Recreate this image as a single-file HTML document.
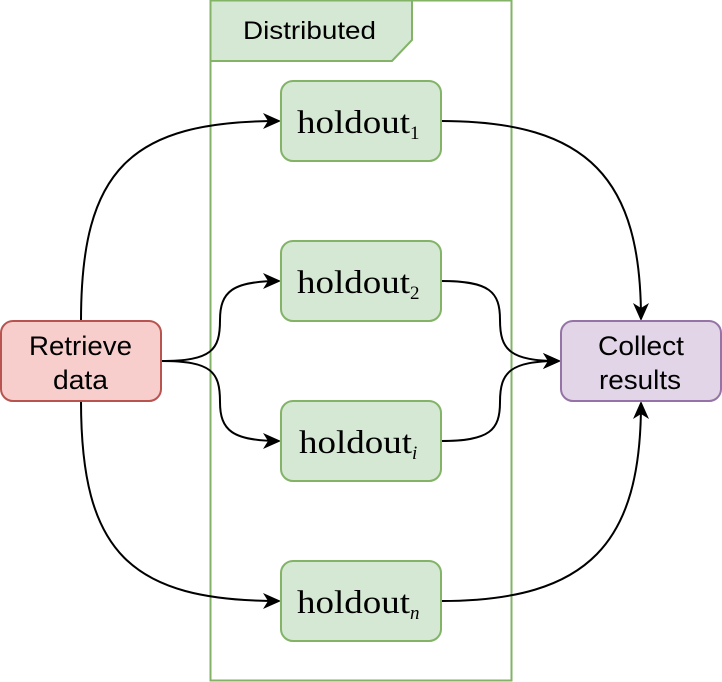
<!DOCTYPE html>
<html><head><style>
body{margin:0;background:#fff;width:722px;height:682px;overflow:hidden}
svg{display:block}
</style></head><body>
<svg width="722" height="682" viewBox="0 0 722 682">
<defs><marker id="a" markerWidth="18" markerHeight="16" refX="16" refY="8" orient="auto" markerUnits="userSpaceOnUse">
<path d="M0,0 L18,8 L0,16 L5,8 Z" fill="#000"/></marker></defs>
<rect x="210.5" y="0.5" width="301" height="680" fill="none" stroke="#82b366" stroke-width="2"/>
<polygon points="210.5,0.5 412,0.5 412,40 392,61 210.5,61" fill="#d5e8d4" stroke="#82b366" stroke-width="2"/>
<text x="243" y="39" font-family="Liberation Sans, sans-serif" font-size="25" textLength="133" lengthAdjust="spacingAndGlyphs">Distributed</text>
<g fill="none" stroke="#000" stroke-width="2">
<path d="M81 321 C81 170 130 121 279 121" marker-end="url(#a)"/>
<path d="M161 361 C212 361 220 350 220 320 C220 292 232 281 279 281" marker-end="url(#a)"/>
<path d="M161 361 C212 361 220 372 220 402 C220 430 232 441 279 441" marker-end="url(#a)"/>
<path d="M81 401 C81 552 130 601 279 601" marker-end="url(#a)"/>
<path d="M441 121 C590 121 641 180 641 319" marker-end="url(#a)"/>
<path d="M441 281 C490 281 500 292 500 320 C500 350 510 361 559 361" marker-end="url(#a)"/>
<path d="M441 441 C490 441 500 430 500 402 C500 372 510 361 559 361" marker-end="url(#a)"/>
<path d="M441 601 C590 601 641 542 641 403" marker-end="url(#a)"/>
</g>
<rect x="1" y="321" width="160" height="80" rx="12" fill="#f8cecc" stroke="#b85450" stroke-width="2"/>
<g font-family="Liberation Sans, sans-serif" font-size="27">
<text x="29" y="355" textLength="103" lengthAdjust="spacingAndGlyphs">Retrieve</text><text x="53" y="389" textLength="55" lengthAdjust="spacingAndGlyphs">data</text>
</g>
<rect x="561" y="321" width="160" height="80" rx="12" fill="#e1d5e7" stroke="#9673a6" stroke-width="2"/>
<g font-family="Liberation Sans, sans-serif" font-size="27">
<text x="598" y="355" textLength="86" lengthAdjust="spacingAndGlyphs">Collect</text><text x="599" y="389" textLength="82" lengthAdjust="spacingAndGlyphs">results</text>
</g>
<g fill="#d5e8d4" stroke="#82b366" stroke-width="2">
<rect x="281" y="81" width="160" height="80" rx="12"/>
<rect x="281" y="241" width="160" height="80" rx="12"/>
<rect x="281" y="401" width="160" height="80" rx="12"/>
<rect x="281" y="561" width="160" height="80" rx="12"/>
</g>
<g font-family="Liberation Serif, serif" font-size="33">
<text x="297" y="133"><tspan textLength="113" lengthAdjust="spacingAndGlyphs">holdout</tspan><tspan font-size="19" dy="6">1</tspan></text>
<text x="297" y="293"><tspan textLength="113" lengthAdjust="spacingAndGlyphs">holdout</tspan><tspan font-size="19" dy="6">2</tspan></text>
<text x="299" y="453"><tspan textLength="113" lengthAdjust="spacingAndGlyphs">holdout</tspan><tspan font-size="19" dy="6" font-style="italic">i</tspan></text>
<text x="297" y="613"><tspan textLength="113" lengthAdjust="spacingAndGlyphs">holdout</tspan><tspan font-size="19" dy="6" font-style="italic">n</tspan></text>
</g>
</svg>
</body></html>
